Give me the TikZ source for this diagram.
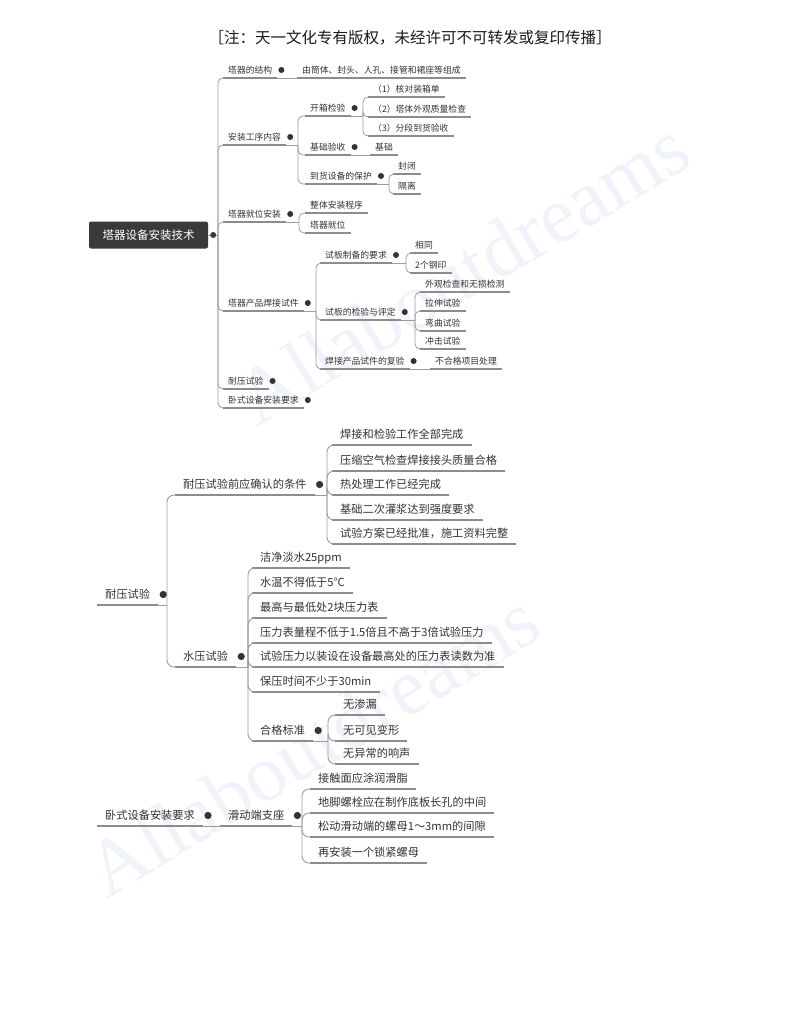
\documentclass[tikz,border=0pt]{standalone}
\usepackage{fontspec}
\setmainfont{Liberation Serif}
\newfontfamily\cjk{Noto Sans CJK SC}
\usetikzlibrary{calc}
\definecolor{txt}{HTML}{333333}
\definecolor{uln}{HTML}{8C8C8C}
\definecolor{cnx}{HTML}{9C9C9C}
\definecolor{wm}{HTML}{F1F3FB}
\definecolor{rootc}{HTML}{3A3A3A}
\newcommand\branch[4]{%
  \draw[#1] (#2) -- (#3);
  \foreach \c in {#4} \draw[#1] (#3) |- (\c.south west);}
\begin{document}
\begin{tikzpicture}[x=1pt,y=-1pt,
  tt/.style={anchor=south west, text depth=0pt, text=txt, inner xsep=5pt, inner ysep=4.5pt,
    font=\cjk\fontsize{8.8}{10}\selectfont},
  bt/.style={anchor=south west, text depth=0pt, text=txt, inner xsep=8pt, inner ysep=6pt,
    font=\cjk\fontsize{11.2}{13}\selectfont},
  tul/.style={draw=uln, line width=1.3pt},
  bul/.style={draw=uln, line width=1.9pt},
  tcon/.style={draw=cnx, line width=0.8pt, rounded corners=5pt},
  bcon/.style={draw=cnx, line width=0.9pt, rounded corners=7pt},
  wmark/.style={text=wm, rotate=31, font=\fontsize{80}{90}\selectfont}]
\useasboundingbox (0,0) rectangle (800,1035);
\fill[white] (0,0) rectangle (800,1035);
% watermarks
\node[wmark] (wm1) at (462,272) {Allaboutdreams};
\node[wmark] (wm2) at (312,744) {Allaboutdreams};
% header
\node[font=\cjk\fontsize{15.5}{18}\selectfont, text=black!90] (hdr) at (410,38) {［注：天一文化专有版权，未经许可不可转发或复印传播］};
% ---------------- top map ----------------
\node[fill=rootc, text=white, rounded corners=2pt, minimum width=119pt, minimum height=27pt,
  inner sep=0pt, font=\cjk\fontsize{11.5}{13}\selectfont] (root) at (148.5,235) {塔器设备安装技术};
\node[tt] (a1) at (223,78) {塔器的结构};
\node[tt] (a1c) at (297,78) {由筒体、封头、人孔、接管和裙座等组成};
\node[tt] (a2) at (223,145) {安装工序内容};
\node[tt] (b1) at (305,116) {开箱检验};
\node[tt] (c1) at (368,97) {（1）核对装箱单};
\node[tt] (c2) at (368,117) {（2）塔体外观质量检查};
\node[tt] (c3) at (368,136) {（3）分段到货验收};
\node[tt] (b2) at (305,155) {基础验收};
\node[tt] (b2c) at (370,155) {基础};
\node[tt] (b3) at (305,184) {到货设备的保护};
\node[tt] (c4) at (393,174) {封闭};
\node[tt] (c5) at (393,194) {隔离};
\node[tt] (a3) at (223,222) {塔器就位安装};
\node[tt] (b4) at (305,213) {整体安装程序};
\node[tt] (b5) at (305,233) {塔器就位};
\node[tt] (a4) at (223,311) {塔器产品焊接试件};
\node[tt] (b6) at (320,263) {试板制备的要求};
\node[tt] (c6) at (410,253) {相同};
\node[tt] (c7) at (410,273) {2个钢印};
\node[tt] (b7) at (320,320) {试板的检验与评定};
\node[tt] (c8) at (420,292) {外观检查和无损检测};
\node[tt] (c9) at (420,311) {拉伸试验};
\node[tt] (c10) at (420,331) {弯曲试验};
\node[tt] (c11) at (420,349) {冲击试验};
\node[tt] (b8) at (320,369) {焊接产品试件的复验};
\node[tt] (b8c) at (430,369) {不合格项目处理};
\node[tt] (a5) at (223,389) {耐压试验};
\node[tt] (a6) at (223,408) {卧式设备安装要求};
\foreach \n in {a1,a1c,a2,b1,c1,c2,c3,b2,b2c,b3,c4,c5,a3,b4,b5,a4,b6,c6,c7,b7,c8,c9,c10,c11,b8,b8c,a5,a6}
  \draw[tul] (\n.south west) -- (\n.south east);
\coordinate (rs) at (218,235);
\branch{tcon}{root.east}{rs}{a1,a2,a3,a4,a5,a6}
\draw[tcon] (a1.south east) -- (a1c.south west);
\coordinate (a2s) at (298,145);
\branch{tcon}{a2.south east}{a2s}{b1,b2,b3}
\coordinate (b1s) at (363,116);
\branch{tcon}{b1.south east}{b1s}{c1,c2,c3}
\draw[tcon] (b2.south east) -- (b2c.south west);
\coordinate (b3s) at (389,184);
\branch{tcon}{b3.south east}{b3s}{c4,c5}
\coordinate (a3s) at (299,222);
\branch{tcon}{a3.south east}{a3s}{b4,b5}
\coordinate (a4s) at (316,311);
\branch{tcon}{a4.south east}{a4s}{b6,b7,b8}
\coordinate (b6s) at (406,263);
\branch{tcon}{b6.south east}{b6s}{c6,c7}
\coordinate (b7s) at (415,320);
\branch{tcon}{b7.south east}{b7s}{c8,c9,c10,c11}
\draw[tcon] (b8.south east) -- (b8c.south west);
\fill[rootc] ($(root.east)+(5,0)$) circle[radius=3pt];
\foreach \n in {a1,a2,a3,a4,a5,a6,b1,b2,b3,b6,b7,b8}
  \fill[txt] ($(\n.base east)+(4,-3.3)$) circle[radius=3pt];
% ---------------- bottom map 1 ----------------
\node[bt] (r1) at (97,605) {耐压试验};
\node[bt] (d1) at (175,495) {耐压试验前应确认的条件};
\node[bt] (e1) at (332,445) {焊接和检验工作全部完成};
\node[bt] (e2) at (332,471) {压缩空气检查焊接接头质量合格};
\node[bt] (e3) at (332,495) {热处理工作已经完成};
\node[bt] (e4) at (332,520) {基础二次灌浆达到强度要求};
\node[bt] (e5) at (332,544) {试验方案已经批准，施工资料完整};
\node[bt] (d2) at (175,667) {水压试验};
\node[bt] (f1) at (252,568) {洁净淡水25ppm};
\node[bt] (f2) at (252,593) {水温不得低于5℃};
\node[bt] (f3) at (252,618) {最高与最低处2块压力表};
\node[bt] (f4) at (252,643) {压力表量程不低于1.5倍且不高于3倍试验压力};
\node[bt] (f5) at (252,667) {试验压力以装设在设备最高处的压力表读数为准};
\node[bt] (f6) at (252,692) {保压时间不少于30min};
\node[bt] (f7) at (252,741) {合格标准};
\node[bt] (g1) at (335,715) {无渗漏};
\node[bt] (g2) at (335,741) {无可见变形};
\node[bt] (g3) at (335,764) {无异常的响声};
% ---------------- bottom map 2 ----------------
\node[bt] (h0) at (97,826) {卧式设备安装要求};
\node[bt] (h1) at (220,826) {滑动端支座};
\node[bt] (i1) at (310,789) {接触面应涂润滑脂};
\node[bt] (i2) at (310,813) {地脚螺栓应在制作底板长孔的中间};
\node[bt] (i3) at (310,837) {松动滑动端的螺母1～3mm的间隙};
\node[bt] (i4) at (310,863) {再安装一个锁紧螺母};
\foreach \n in {r1,d1,e1,e2,e3,e4,e5,d2,f1,f2,f3,f4,f5,f6,f7,g1,g2,g3,h0,h1,i1,i2,i3,i4}
  \draw[bul] (\n.south west) -- (\n.south east);
\coordinate (r1s) at (167,605);
\branch{bcon}{r1.south east}{r1s}{d1,d2}
\coordinate (d1s) at (327,495);
\branch{bcon}{d1.south east}{d1s}{e1,e2,e3,e4,e5}
\coordinate (d2s) at (248,667);
\branch{bcon}{d2.south east}{d2s}{f1,f2,f3,f4,f5,f6,f7}
\coordinate (f7s) at (328,741);
\branch{bcon}{f7.south east}{f7s}{g1,g2,g3}
\draw[bcon] (h0.south east) -- (h1.south west);
\coordinate (h1s) at (302,826);
\branch{bcon}{h1.south east}{h1s}{i1,i2,i3,i4}
\foreach \n in {r1,d1,d2,f7,h0,h1}
  \fill[txt] ($(\n.base east)+(5,-4.3)$) circle[radius=3.6pt];
\end{tikzpicture}
\end{document}
